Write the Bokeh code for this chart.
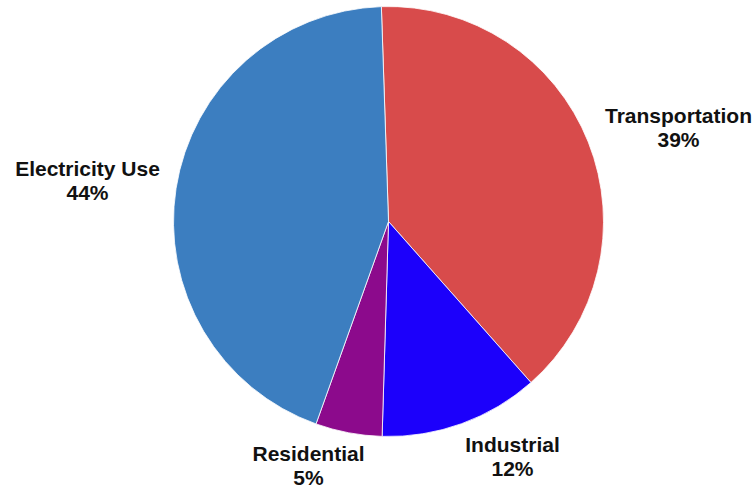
from math import radians
from bokeh.plotting import figure
from bokeh.models import ColumnDataSource, Range1d
from bokeh.core.properties import value
from bokeh.embed import file_html
from bokeh.resources import INLINE

categories = ["Transportation", "Industrial", "Residential", "Electricity Use"]
shares = [39, 12, 5, 44]
colors = ["#d84b4b", "#1c00fb", "#8c0a8c", "#3c7ec0"]

W, H = 756, 491
cx, cy, r = 388, H - 221, 215
start_deg = 91.9

starts, ends = [], []
acc = start_deg
total = sum(shares)
for s in shares:
    starts.append(radians(acc))
    acc -= s / total * 360
    ends.append(radians(acc))

src = ColumnDataSource(dict(cat=categories, share=shares, color=colors,
                            start=starts, end=ends))

p = figure(width=W, height=H, output_backend="svg", toolbar_location=None,
           x_range=Range1d(0, W), y_range=Range1d(0, H), min_border=0)
p.axis.visible = False
p.grid.visible = False
p.outline_line_color = None
p.background_fill_color = "white"

p.wedge(x=cx, y=cy, radius=r, start_angle="start", end_angle="end",
        direction="clock", fill_color="color", line_color="white",
        line_width=0.8, source=src)

label_pos = {
    "Transportation": (678, H - 115),
    "Industrial": (512, H - 444),
    "Residential": (308, H - 453),
    "Electricity Use": (87, H - 168),
}
lx, ly, pct_y, names, pcts = [], [], [], [], []
for c, s in zip(categories, shares):
    x, y = label_pos[c]
    lx.append(x)
    ly.append(y)
    pct_y.append(y - 24)
    names.append(c)
    pcts.append(f"{s}%")

lsrc = ColumnDataSource(dict(x=lx, y=ly, y2=pct_y, name=names, pct=pcts))
for ycol, tcol in (("y", "name"), ("y2", "pct")):
    p.text(x="x", y=ycol, text=tcol, source=lsrc, text_align="center",
           text_baseline="middle", text_font=value("Liberation Sans"),
           text_font_style="bold", text_font_size="21px", text_color="#111111")

open("out.html", "w").write(file_html(p, INLINE))
